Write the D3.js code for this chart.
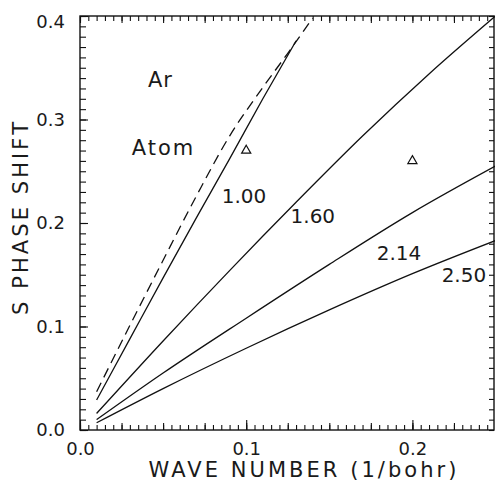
<!DOCTYPE html>
<html>
<head>
<meta charset="utf-8">
<script src="https://cdn.jsdelivr.net/npm/d3@7"></script>
<style>
  body { margin: 0; background: #fff; }
  svg text { font-family: "DejaVu Sans", sans-serif; fill: #1a1a1a; }
</style>
</head>
<body>
<div id="chart"></div>
<script>
// wave number (1/bohr) and s phase shift for each curve
var k100 = [0.01, 0.03, 0.05, 0.07, 0.09, 0.11, 0.13];
var s100 = [0.029, 0.088, 0.147, 0.205, 0.262, 0.320, 0.376];

var kAtom = [0.01, 0.03, 0.05, 0.07, 0.09, 0.11, 0.125, 0.14];
var sAtom = [0.037, 0.101, 0.164, 0.226, 0.284, 0.331, 0.364, 0.398];

var k160 = [0.01, 0.05, 0.09, 0.13, 0.17, 0.21, 0.25];
var s160 = [0.016, 0.086, 0.154, 0.220, 0.284, 0.344, 0.400];

var kWide = [0.01, 0.05, 0.10, 0.15, 0.20, 0.25];
var s214 = [0.010, 0.055, 0.108, 0.160, 0.210, 0.255];
var s250 = [0.007, 0.040, 0.079, 0.116, 0.151, 0.183];

// open triangles
var triK = [0.1, 0.2];
var triS = [0.270, 0.260];

var curveLabels = ["1.00", "1.60", "2.14", "2.50"];
var xTickLabels = ["0.0", "0.1", "0.2"];
var yTickLabels = ["0.0", "0.1", "0.2", "0.3", "0.4"];

var W = 495, H = 485;
var svg = d3.select('#chart').append('svg')
    .attr('width', W)
    .attr('height', H);

var x = d3.scaleLinear().domain([0, 0.25]).range([80, 495.5]);
var y = d3.scaleLinear().domain([0, 0.4]).range([430, 16]);

var zip = function(ks, ss) {
  return ks.map(function(k, i) { return [k, ss[i]]; });
};

// ---- axes (ticks point inward like the original) ----
var range = function(a, b, step) {
  return d3.range(Math.round((b - a) / step) + 1).map(function(i) { return +(a + i * step).toFixed(4); });
};
var xMinor = range(0, 0.25, 0.005);
var xMid = range(0, 0.25, 0.025);
var yMinor = range(0, 0.4, 0.01);

var addAxis = function(axis, tx, ty) {
  var g = svg.append('g')
      .attr('transform', 'translate(' + tx + ',' + ty + ')')
      .call(axis);
  g.select('.domain').remove();
  g.selectAll('line').attr('stroke', '#111').attr('stroke-width', 1.1);
  return g;
};

// bottom
addAxis(d3.axisBottom(x).tickValues(xMinor).tickSize(-5).tickFormat(''), 0, 430);
addAxis(d3.axisBottom(x).tickValues(xMid).tickSize(-7).tickFormat(''), 0, 430);
var xLab = addAxis(d3.axisBottom(x).tickValues([0, 0.1, 0.2]).tickSize(-10).tickPadding(12)
    .tickFormat(function(d, i) { return xTickLabels[i]; }), 0, 430);
xLab.selectAll('text').style('font-size', '18px').style('font-family', '"DejaVu Sans", sans-serif').style('fill', '#1a1a1a');

// top
addAxis(d3.axisTop(x).tickValues(xMinor).tickSize(-5).tickFormat(''), 0, 16);
addAxis(d3.axisTop(x).tickValues(xMid).tickSize(-7).tickFormat(''), 0, 16);

// left
addAxis(d3.axisLeft(y).tickValues(yMinor).tickSize(-6).tickFormat(''), 80, 0);
var yLab = addAxis(d3.axisLeft(y).tickValues([0, 0.1, 0.2, 0.3, 0.4]).tickSize(-8).tickPadding(15)
    .tickFormat(function(d, i) { return yTickLabels[i]; }), 80, 0);
yLab.selectAll('text').style('font-size', '18px').style('font-family', '"DejaVu Sans", sans-serif').style('fill', '#1a1a1a');
// the top label sits a little lower in the original
yLab.selectAll('.tick').filter(function(d) { return d === 0.4; })
    .select('text').attr('dy', '0.62em');

// right
addAxis(d3.axisRight(y).tickValues(yMinor).tickSize(-5).tickFormat(''), 494, 0);

// frame
svg.append('rect')
    .attr('x', x(0)).attr('y', y(0.4))
    .attr('width', 494 - x(0)).attr('height', y(0) - y(0.4))
    .attr('fill', 'none').attr('stroke', '#111').attr('stroke-width', 1.4);

// ---- curves ----
var line = d3.line()
    .x(function(d) { return x(d[0]); })
    .y(function(d) { return y(d[1]); })
    .curve(d3.curveMonotoneX);

var solid = [zip(k100, s100), zip(k160, s160), zip(kWide, s214), zip(kWide, s250)];
svg.selectAll('path.curve')
    .data(solid)
  .enter().append('path')
    .attr('class', 'curve')
    .attr('d', line)
    .attr('fill', 'none')
    .attr('stroke', '#111')
    .attr('stroke-width', 1.3);

svg.append('path')
    .datum(zip(kAtom, sAtom))
    .attr('d', line)
    .attr('fill', 'none')
    .attr('stroke', '#111')
    .attr('stroke-width', 1.3)
    .attr('stroke-dasharray', '10,6');

// triangles
svg.selectAll('path.tri')
    .data(zip(triK, triS))
  .enter().append('path')
    .attr('class', 'tri')
    .attr('transform', function(d) { return 'translate(' + x(d[0]) + ',' + y(d[1]) + ')'; })
    .attr('d', d3.symbol().type(d3.symbolTriangle).size(36))
    .attr('fill', 'none')
    .attr('stroke', '#111')
    .attr('stroke-width', 1.2);

// ---- annotations ----
var labelK = [0.0853, 0.1267, 0.1785, 0.2176];
var labelS = [0.219, 0.1997, 0.1643, 0.1433];
svg.selectAll('text.clab')
    .data(curveLabels)
  .enter().append('text')
    .attr('class', 'clab')
    .attr('x', function(d, i) { return x(labelK[i]); })
    .attr('y', function(d, i) { return y(labelS[i]); })
    .style('font-size', '20px')
    .text(function(d) { return d; });

svg.append('text')
    .attr('x', x(0.0409)).attr('y', y(0.3317))
    .style('font-size', '21px')
    .style('letter-spacing', '1px')
    .text('Ar');
svg.append('text')
    .attr('x', x(0.0311)).attr('y', y(0.2657))
    .style('font-size', '21px')
    .style('letter-spacing', '2px')
    .text('Atom');

// axis titles
svg.append('text')
    .attr('x', 148.5).attr('y', 477)
    .attr('textLength', 308)
    .attr('lengthAdjust', 'spacing')
    .style('font-size', '21px')
    .text('WAVE NUMBER (1/bohr)');

svg.append('text')
    .attr('transform', 'translate(28,315) rotate(-90)')
    .attr('textLength', 193)
    .attr('lengthAdjust', 'spacing')
    .style('font-size', '21px')
    .text('S PHASE SHIFT');
</script>
</body>
</html>
